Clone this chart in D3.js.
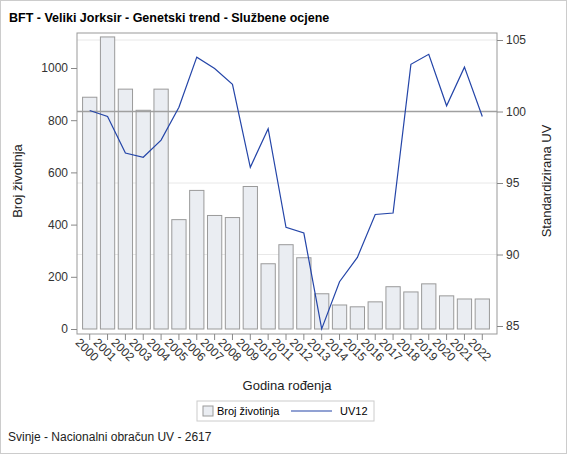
<!DOCTYPE html>
<html><head><meta charset="utf-8">
<script src="https://cdn.jsdelivr.net/npm/d3@7"></script>
<style>body{margin:0;background:#fff;font-family:"Liberation Sans",Arial,sans-serif}</style>
</head><body>
<script>
var years = ["2000","2001","2002","2003","2004","2005","2006","2007","2008","2009","2010","2011","2012","2013","2014","2015","2016","2017","2018","2019","2020","2021","2022"];
var brojZivotinja = [888,1119,919,838,919,419,531,435,427,546,250,323,273,135,92,85,104,162,142,173,127,115,115];
var uv12 = [100.07,99.65,97.1,96.8,98.0,100.3,103.8,103.0,101.9,96.1,98.8,91.9,91.5,84.8,88.1,89.8,92.8,92.9,103.3,104.0,100.4,103.1,99.65];
var leftTicks = [0,200,400,600,800,1000];
var rightTicks = [85,90,95,100,105];

var W = 567, H = 454;
var m = {l: 77, r: 497, t: 33, b: 334};
var svg = d3.select("body").append("svg").attr("width", W).attr("height", H);
svg.append("rect").attr("x",0.5).attr("y",0.5).attr("width",W-1).attr("height",H-1).attr("fill","#fff").attr("stroke","#ccc");

var x = d3.scaleBand().domain(years).range([m.l+2, m.r-4]).padding(0.2);
var yL = d3.scaleLinear().domain([0,1000]).range([329,68]);
var yR = d3.scaleLinear().domain([85,105]).range([326,40]);

// grid
svg.selectAll("line.grid").data(rightTicks.filter(function(d){return d!=100 && d!=85;})).enter().append("line")
  .attr("x1",m.l).attr("x2",m.r).attr("y1",function(d){return yR(d);}).attr("y2",function(d){return yR(d);})
  .attr("stroke","#e8e8e8");

svg.selectAll("rect.bar").data(brojZivotinja).enter().append("rect")
  .attr("x",function(d,i){return x(years[i]);}).attr("width",x.bandwidth())
  .attr("y",function(d){return yL(d);}).attr("height",function(d){return yL(0)-yL(d);})
  .attr("fill","#eaedf2").attr("stroke","#9a9a9a");

svg.append("line").attr("x1",m.l).attr("x2",m.r).attr("y1",yR(100)).attr("y2",yR(100)).attr("stroke","#a0a0a0").attr("stroke-width",1.5);

var line = d3.line().x(function(d,i){return x(years[i])+x.bandwidth()/2;}).y(function(d){return yR(d);});
svg.append("path").datum(uv12).attr("d",line).attr("fill","none").attr("stroke","#2445a8").attr("stroke-width",1.2);

svg.append("rect").attr("x",m.l).attr("y",m.t).attr("width",m.r-m.l).attr("height",m.b-m.t).attr("fill","none").attr("stroke","#999");

var gL = svg.append("g").attr("transform","translate("+m.l+",0)")
  .call(d3.axisLeft(yL).tickValues(leftTicks).tickFormat(d3.format("d")).tickSize(6).tickSizeOuter(0));
var gR = svg.append("g").attr("transform","translate("+m.r+",0)")
  .call(d3.axisRight(yR).tickValues(rightTicks).tickSize(6).tickSizeOuter(0));
var gX = svg.append("g").attr("transform","translate(0,"+m.b+")")
  .call(d3.axisBottom(x).tickSize(6).tickSizeOuter(0));
[gL,gR,gX].forEach(function(g){
  g.select(".domain").remove();
  g.selectAll("line").attr("stroke","#888");
  g.selectAll("text").attr("fill","#333").style("font-size","12px").style("font-family","Liberation Sans, Arial");
});
gX.selectAll("text").attr("text-anchor","start").attr("dx","-4").attr("dy","8").attr("transform","rotate(45)");

svg.append("text").attr("x",9).attr("y",22).text("BFT - Veliki Jorksir - Genetski trend - Službene ocjene").style("font-size","12.5px").style("font-weight","bold");
svg.append("text").attr("transform","translate(22,181) rotate(-90)").attr("text-anchor","middle").text("Broj životinja").style("font-size","13px").attr("fill","#222");
svg.append("text").attr("transform","translate(551,181) rotate(-90)").attr("text-anchor","middle").text("Standardizirana UV").style("font-size","13px").attr("fill","#222");
svg.append("text").attr("x",287).attr("y",390).attr("text-anchor","middle").text("Godina rođenja").style("font-size","13px").attr("fill","#222");

var lg = svg.append("g");
lg.append("rect").attr("x",197).attr("y",401).attr("width",177).attr("height",20).attr("fill","#fff").attr("stroke","#ccc");
lg.append("rect").attr("x",203).attr("y",406).attr("width",10).attr("height",10).attr("fill","#eaedf2").attr("stroke","#9a9a9a");
lg.append("text").attr("x",217).attr("y",415).text("Broj životinja").style("font-size","11px");
lg.append("line").attr("x1",291).attr("x2",332).attr("y1",411).attr("y2",411).attr("stroke","#2445a8").attr("stroke-width",1.2);
lg.append("text").attr("x",340).attr("y",415).text("UV12").style("font-size","11px");

svg.append("text").attr("x",8).attr("y",441).text("Svinje - Nacionalni obračun UV - 2617").style("font-size","12px").attr("fill","#222");
</script>
</body></html>
